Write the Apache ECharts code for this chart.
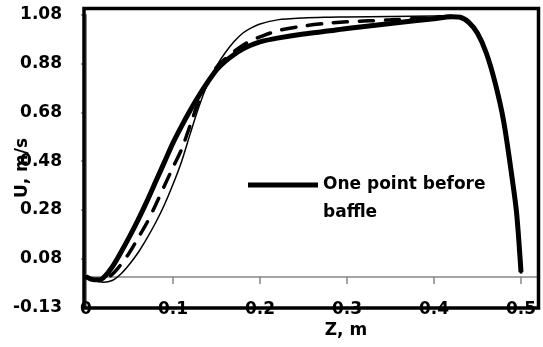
<!DOCTYPE html>
<html lang="en">
<head>
<meta charset="UTF-8">
<title>U vs Z</title>
<style>
    html, body { margin: 0; padding: 0; background: #fff; }
    #main { width: 543px; height: 347px; }
</style>
</head>
<body>
<div id="main"></div>
<script src="https://cdn.jsdelivr.net/npm/echarts@6/dist/echarts.min.js"></script>
<script>
// axis scales (Excel style: y ticks start at -0.125, step 0.2)
var yMin = -0.125, yMax = 1.075, yStep = 0.2;
var xMin = 0, xMax = 0.52, xStep = 0.1;
var xTicks = [0.1, 0.2, 0.3, 0.4, 0.5];

// Z, m
var zPos = [0, 0.005, 0.01, 0.015, 0.02, 0.03, 0.04, 0.05, 0.06, 0.07, 0.08, 0.09, 0.10,
    0.11, 0.12, 0.13, 0.14, 0.15, 0.16, 0.17, 0.18, 0.19, 0.20, 0.22, 0.25, 0.28, 0.30,
    0.35, 0.40, 0.42, 0.43, 0.44, 0.45, 0.46, 0.47, 0.48, 0.49, 0.495, 0.50];

// U, m/s
var uBefore = [0.0, -0.008, -0.012, -0.012, -0.004, 0.04, 0.10, 0.165, 0.235, 0.31, 0.39, 0.47, 0.55,
    0.62, 0.685, 0.745, 0.80, 0.85, 0.885, 0.912, 0.935, 0.952, 0.965, 0.98, 0.997, 1.01, 1.02,
    1.04, 1.06, 1.068, 1.066, 1.045, 1.0, 0.92, 0.80, 0.64, 0.40, 0.26, 0.02];
var uDashed = [0.0, -0.008, -0.012, -0.014, -0.012, 0.01, 0.05, 0.10, 0.16, 0.222, 0.295, 0.373, 0.45,
    0.525, 0.625, 0.725, 0.80, 0.86, 0.895, 0.925, 0.95, 0.97, 0.985, 1.01, 1.03, 1.042, 1.047,
    1.055, 1.065, 1.07, 1.067, 1.047, 1.0, 0.92, 0.80, 0.64, 0.40, 0.26, 0.02];
var uThin = [0.0, -0.01, -0.016, -0.02, -0.022, -0.015, 0.012, 0.052, 0.10, 0.158, 0.222, 0.295, 0.38,
    0.475, 0.59, 0.70, 0.795, 0.865, 0.92, 0.965, 1.0, 1.022, 1.038, 1.055, 1.063, 1.066, 1.067,
    1.069, 1.071, 1.072, 1.068, 1.048, 1.0, 0.92, 0.80, 0.64, 0.40, 0.26, 0.02];

function pairs(xs, ys) {
    return xs.map(function (x, i) { return [x, ys[i]]; });
}

var font = 'DejaVu Sans';
var gray = '#868686';
var tickLen = 0.029; // in U units, about 7px

var chart = echarts.init(document.getElementById('main'));
var option = {
    backgroundColor: '#fff',
    animation: false,
    grid: { left: 86, right: 4.6, top: 15, bottom: 39.7 },
    legend: {
        data: ['One point before baffle'],
        left: 243,
        top: 138,
        icon: 'rect',
        itemWidth: 70,
        itemHeight: 5,
        // empty first line keeps "One point before" level with the line sample
        formatter: function () { return ' \nOne point before\nbaffle'; },
        textStyle: {
            color: '#000', fontFamily: font, fontWeight: 'bold', fontSize: 17, lineHeight: 28
        }
    },
    xAxis: [{
        type: 'value', min: xMin, max: xMax, interval: xStep,
        position: 'bottom',
        axisLine: { show: false, onZero: false },
        axisTick: { show: false },
        splitLine: { show: false },
        axisLabel: {
            color: '#000', fontFamily: font, fontWeight: 'bold', fontSize: 17,
            verticalAlign: 'middle', margin: 2, showMaxLabel: false,
            formatter: function (v) { return v === 0 ? '0' : v.toFixed(1); }
        }
    }, {
        // grey axis line at U = 0
        type: 'value', min: xMin, max: xMax, interval: xStep,
        position: 'top',
        axisLine: { show: true, onZero: true, lineStyle: { color: gray, width: 1.5 } },
        axisTick: { show: false },
        axisLabel: { show: false },
        splitLine: { show: false }
    }],
    yAxis: {
        type: 'value', min: yMin, max: yMax, interval: yStep,
        axisLine: { show: true, onZero: false, lineStyle: { color: gray, width: 2 } },
        axisTick: { show: true, length: 5, lineStyle: { color: gray, width: 1.5 } },
        splitLine: { show: false },
        axisLabel: {
            color: '#000', fontFamily: font, fontWeight: 'bold', fontSize: 17, margin: 24,
            formatter: function (v) {
                var r = Math.round(Math.abs(v) * 100 + 1e-6) / 100;
                return (v < 0 ? -r : r).toFixed(2);
            }
        }
    },
    series: [{
        name: 'Thin profile',
        type: 'line',
        data: pairs(zPos, uThin),
        showSymbol: false,
        smooth: 0.3,
        lineStyle: { color: '#000', width: 1.5 },
        itemStyle: { color: '#000' },
        // tick marks hanging under the U = 0 axis line
        markLine: {
            silent: true,
            symbol: ['none', 'none'],
            label: { show: false },
            lineStyle: { color: gray, width: 1.5, type: 'solid' },
            data: xTicks.map(function (t) {
                return [{ coord: [t, 0] }, { coord: [t, -tickLen] }];
            })
        }
    }, {
        name: 'Dashed profile',
        type: 'line',
        data: pairs(zPos, uDashed),
        showSymbol: false,
        smooth: 0.3,
        lineStyle: { color: '#000', width: 3.5, type: [14, 12], cap: 'round' },
        itemStyle: { color: '#000' }
    }, {
        name: 'One point before baffle',
        type: 'line',
        data: pairs(zPos, uBefore),
        showSymbol: false,
        smooth: 0.3,
        lineStyle: { color: '#000', width: 5 },
        itemStyle: { color: '#000' }
    }],
    graphic: [{
        type: 'rect',
        z: 100,
        shape: { x: 84, y: 8.5, width: 454.5, height: 299.5 },
        style: { fill: null, stroke: '#000', lineWidth: 3.5 }
    }, {
        type: 'text',
        x: 346, y: 331,
        style: {
            text: 'Z, m', fill: '#000', font: 'bold 17px "DejaVu Sans"',
            align: 'center', verticalAlign: 'middle'
        }
    }, {
        type: 'text',
        x: 23, y: 168,
        rotation: Math.PI / 2,
        style: {
            text: 'U, m/s', fill: '#000', font: 'bold 17px "DejaVu Sans"',
            align: 'center', verticalAlign: 'middle'
        }
    }]
};
chart.setOption(option);
</script>
</body>
</html>
